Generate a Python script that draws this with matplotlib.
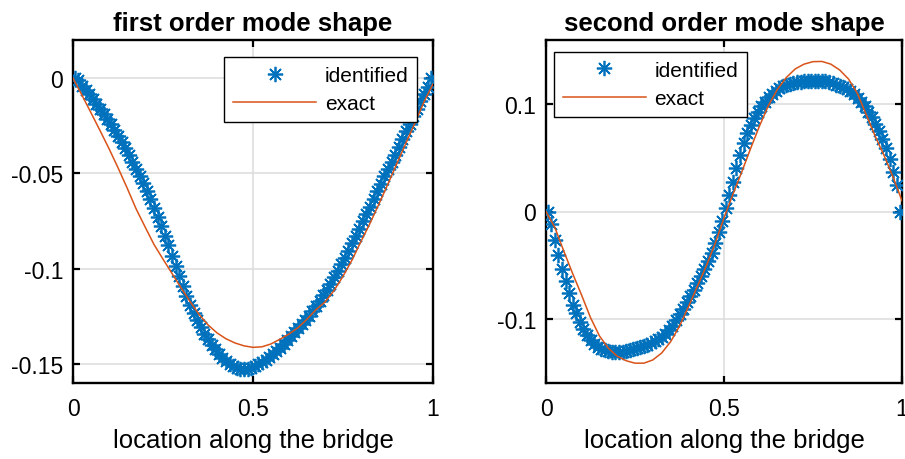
import numpy as np
import matplotlib
matplotlib.use("Agg")
import matplotlib.pyplot as plt
from matplotlib.ticker import FixedLocator, FixedFormatter

plt.rcParams["font.family"] = ["Liberation Sans", "DejaVu Sans"]

BLUE = "#0072BD"
ORANGE = "#D95319"

# identified mode shapes, 100 sensor locations along the bridge
x_id = np.linspace(0.005, 0.995, 100)
mode1_id = [
    0.0000, -0.0010, -0.0040, -0.0060, -0.0085, -0.0110, -0.0135, -0.0160, -0.0187, -0.0215,
    -0.0243, -0.0272, -0.0302, -0.0334, -0.0367, -0.0402, -0.0438, -0.0475, -0.0513, -0.0552,
    -0.0594, -0.0637, -0.0681, -0.0727, -0.0776, -0.0826, -0.0878, -0.0931, -0.0985, -0.1040,
    -0.1093, -0.1143, -0.1190, -0.1233, -0.1272, -0.1308, -0.1341, -0.1371, -0.1398, -0.1422,
    -0.1448, -0.1468, -0.1485, -0.1499, -0.1511, -0.1520, -0.1526, -0.1528, -0.1525, -0.1519,
    -0.1510, -0.1500, -0.1489, -0.1477, -0.1464, -0.1450, -0.1433, -0.1415, -0.1396, -0.1376,
    -0.1355, -0.1333, -0.1313, -0.1292, -0.1270, -0.1247, -0.1223, -0.1197, -0.1169, -0.1140,
    -0.1110, -0.1078, -0.1045, -0.1012, -0.0978, -0.0942, -0.0905, -0.0867, -0.0828, -0.0790,
    -0.0752, -0.0714, -0.0675, -0.0635, -0.0595, -0.0554, -0.0515, -0.0477, -0.0439, -0.0401,
    -0.0360, -0.0320, -0.0280, -0.0240, -0.0200, -0.0160, -0.0122, -0.0085, -0.0048, 0.0000,
]
mode2_id = [
    0.0000, -0.0115, -0.0265, -0.0410, -0.0535, -0.0645, -0.0765, -0.0870, -0.0950, -0.1030,
    -0.1095, -0.1150, -0.1198, -0.1235, -0.1262, -0.1280, -0.1293, -0.1302, -0.1307, -0.1310,
    -0.1310, -0.1307, -0.1302, -0.1295, -0.1287, -0.1278, -0.1267, -0.1255, -0.1241, -0.1226,
    -0.1210, -0.1192, -0.1170, -0.1143, -0.1108, -0.1065, -0.1015, -0.0960, -0.0905, -0.0848,
    -0.0790, -0.0730, -0.0668, -0.0605, -0.0538, -0.0465, -0.0385, -0.0295, -0.0195, -0.0090,
    0.0030, 0.0150, 0.0275, 0.0405, 0.0530, 0.0640, 0.0735, 0.0810, 0.0875, 0.0930,
    0.0980, 0.1025, 0.1065, 0.1100, 0.1128, 0.1150, 0.1168, 0.1182, 0.1193, 0.1201,
    0.1207, 0.1212, 0.1216, 0.1218, 0.1219, 0.1220, 0.1219, 0.1217, 0.1213, 0.1205,
    0.1195, 0.1183, 0.1170, 0.1157, 0.1145, 0.1122, 0.1092, 0.1062, 0.1025, 0.0980,
    0.0930, 0.0880, 0.0815, 0.0750, 0.0680, 0.0590, 0.0490, 0.0370, 0.0245, 0.0000,
]

# exact mode shapes
x_exact = np.linspace(0, 1, 41)
mode1_exact = [
    0.0000, -0.0090, -0.0182, -0.0275, -0.0370, -0.0470, -0.0575, -0.0685, -0.0780, -0.0873,
    -0.0950, -0.1025, -0.1100, -0.1172, -0.1240, -0.1295, -0.1337, -0.1368, -0.1390, -0.1405,
    -0.1413, -0.1410, -0.1395, -0.1370, -0.1343, -0.1310, -0.1265, -0.1215, -0.1175, -0.1115,
    -0.1040, -0.0955, -0.0857, -0.0762, -0.0660, -0.0555, -0.0447, -0.0340, -0.0235, -0.0125,
    -0.0030,
]
mode2_exact = [
    0.0000, -0.0150, -0.0370, -0.0580, -0.0780, -0.0990, -0.1160, -0.1275, -0.1350, -0.1392,
    -0.1415, -0.1415, -0.1385, -0.1320, -0.1215, -0.1070, -0.0890, -0.0700, -0.0510, -0.0300,
    -0.0060, 0.0160, 0.0370, 0.0590, 0.0800, 0.0990, 0.1140, 0.1250, 0.1330, 0.1375,
    0.1398, 0.1400, 0.1375, 0.1320, 0.1235, 0.1100, 0.0900, 0.0700, 0.0520, 0.0320,
    0.0100,
]

titles = ["first order mode shape", "second order mode shape"]
xticks = [0, 0.5, 1]
xticklabels = ["0", "0.5", "1"]
yticks1 = [-0.15, -0.1, -0.05, 0]
yticklabels1 = ["-0.15", "-0.1", "-0.05", "0"]
yticks2 = [-0.1, 0, 0.1]
yticklabels2 = ["-0.1", "0", "0.1"]

W, H = 905, 460
fig = plt.figure(figsize=(W / 100, H / 100), dpi=100)
ax1 = fig.add_axes([73 / W, 1 - 384 / H, 360 / W, 343 / H])
ax2 = fig.add_axes([546 / W, 1 - 384 / H, 356 / W, 343 / H])

panels = [
    (ax1, mode1_id, mode1_exact, titles[0], yticks1, yticklabels1, (-0.16, 0.02),
     "upper right", (0.956, 0.950)),
    (ax2, mode2_id, mode2_exact, titles[1], yticks2, yticklabels2, (-0.16, 0.16),
     "upper left", (0.022, 0.965)),
]

for ax, yid, yex, title, yt, ytl, ylim, loc, anchor in panels:
    ax.plot(x_id, yid, linestyle="none", marker=(8, 2, 0), markersize=11,
            markeredgewidth=1.25, color=BLUE, label="identified", zorder=3)
    ax.plot(x_exact, yex, color=ORANGE, linewidth=1.1, label="exact", zorder=4)
    ax.set_xlim(0, 1)
    ax.set_ylim(*ylim)
    ax.xaxis.set_major_locator(FixedLocator(xticks))
    ax.xaxis.set_major_formatter(FixedFormatter(xticklabels))
    ax.yaxis.set_major_locator(FixedLocator(yt))
    ax.yaxis.set_major_formatter(FixedFormatter(ytl))
    ax.tick_params(direction="in", length=5, width=1.6, labelsize=16.5,
                   top=True, right=True, colors="black")
    ax.tick_params(axis="x", pad=10)
    ax.tick_params(axis="y", pad=7)
    ax.grid(True, color="#dedede", linewidth=1.2)
    ax.set_axisbelow(True)
    for s in ax.spines.values():
        s.set_linewidth(1.7)
    ax.set_title(title, fontsize=18.5, fontweight="bold", pad=7)
    ax.set_xlabel("location along the bridge", fontsize=18.5, labelpad=6)
    leg = ax.legend(loc=loc, bbox_to_anchor=anchor, fontsize=15, fancybox=False,
                    edgecolor="black", framealpha=1, handlelength=4.0,
                    handletextpad=0.4, labelspacing=0.45, borderpad=0.42,
                    borderaxespad=0)
    leg.get_frame().set_linewidth(1.0)

fig.savefig("out.png", dpi=100)
